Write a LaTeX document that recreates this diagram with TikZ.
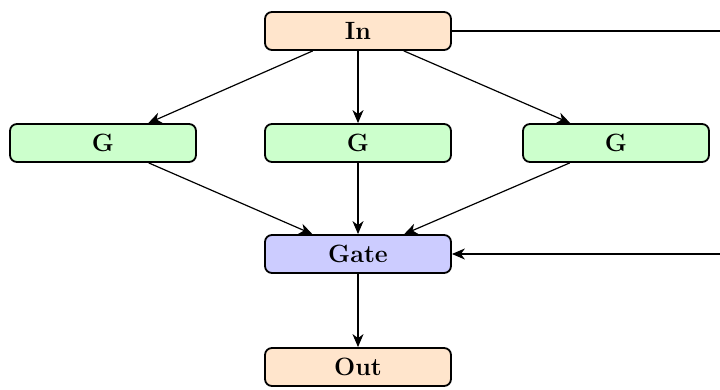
\documentclass[tikz,border=0pt]{standalone}
\usetikzlibrary{arrows.meta}
\definecolor{peach}{HTML}{FFE5CC}
\definecolor{mint}{HTML}{CCFFCC}
\definecolor{lav}{HTML}{CCCCFF}
\begin{document}
\begin{tikzpicture}[x=1pt,y=-1pt,
  box/.style={draw=black, line width=1.8pt, rounded corners=7pt, minimum width=186pt, minimum height=38pt, inner sep=0pt, font=\fontsize{25}{29}\selectfont\bfseries},
  conn/.style={line width=1.2pt, -{Stealth[length=13pt,width=11pt,inset=4pt]}},
  plain/.style={line width=1.2pt}]
\clip (0,0) rectangle (720,390);
\node[box, fill=peach] (in) at (358,31) {In};
\node[box, fill=mint] (g1) at (103,143) {G};
\node[box, fill=mint] (g2) at (358,143) {G};
\node[box, fill=mint] (g3) at (616,143) {G};
\node[box, fill=lav] (gate) at (358,254) {Gate};
\node[box, fill=peach] (out) at (358,367) {Out};
\coordinate (r1) at (740,31);
\coordinate (r2) at (740,254);
\draw[conn] (in) -- (g1);
\draw[conn] (in) -- (g2);
\draw[conn] (in) -- (g3);
\draw[conn] (g1) -- (gate);
\draw[conn] (g2) -- (gate);
\draw[conn] (g3) -- (gate);
\draw[conn] (gate) -- (out);
\draw[plain] (in.east) -- (r1) -- (r2);
\draw[conn] (r2) -- (gate.east);
\end{tikzpicture}
\end{document}
